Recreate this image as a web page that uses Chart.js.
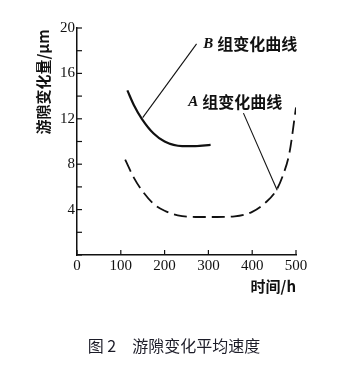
<!DOCTYPE html>
<html><head><meta charset="utf-8">
<script src="https://cdn.jsdelivr.net/npm/chart.js@4/dist/chart.umd.min.js"></script>
<style>html,body{margin:0;padding:0;background:#fff}#wrap{width:359px;height:372px;position:relative}</style>
</head><body><div id="wrap"><canvas id="c" width="359" height="372"></canvas></div>
<script>
// ---- data ----
const hoursB = [115, 130, 148, 175, 200, 240, 270, 305];
const clearanceB = [14.5, 13.2, 12.0, 10.7, 10.0, 9.6, 9.6, 9.7];
const hoursA = [110, 130, 150, 175, 200, 230, 270, 320, 360, 400, 430, 455, 470, 485, 500];
const clearanceA = [8.4, 6.8, 5.6, 4.5, 3.9, 3.5, 3.35, 3.35, 3.4, 3.8, 4.6, 5.7, 7.0, 9.0, 13.0];
const xTickValues = [0, 100, 200, 300, 400, 500];
const yTickLabels = [4, 8, 12, 16, 20];
const labelB = "组变化曲线", letterB = "B";
const labelA = "组变化曲线", letterA = "A";
const leaderB = [[273, 18.6], [150, 12.1]];
const leaderA = [[380, 12.5], [457, 5.7]];
const textBAt = [320, 18.6];
const textAAt = [286, 13.5];
const yTitle = "游隙变化量/μm";
const xTitle = "时间/h";
const caption = "图 2　游隙变化平均速度";

const toPts = (xs, ys) => xs.map((x, i) => ({x, y: ys[i]}));

const deco = {
  id: 'deco',
  afterDraw(chart) {
    const ctx = chart.ctx, xs = chart.scales.x, ys = chart.scales.y;
    const ca = chart.chartArea;
    ctx.save();
    ctx.strokeStyle = '#111'; ctx.lineWidth = 1.2;
    // inward ticks
    for (let v = 0; v <= 20; v += 2) {
      const p = ys.getPixelForValue(v);
      ctx.beginPath(); ctx.moveTo(ca.left, p); ctx.lineTo(ca.left + 5, p); ctx.stroke();
    }
    xTickValues.forEach(v => {
      const p = xs.getPixelForValue(v);
      ctx.beginPath(); ctx.moveTo(p, ca.bottom); ctx.lineTo(p, ca.bottom - 5); ctx.stroke();
    });
    // leader lines
    ctx.lineWidth = 1.1;
    [leaderB, leaderA].forEach(l => {
      ctx.beginPath();
      ctx.moveTo(xs.getPixelForValue(l[0][0]), ys.getPixelForValue(l[0][1]));
      ctx.lineTo(xs.getPixelForValue(l[1][0]), ys.getPixelForValue(l[1][1]));
      ctx.stroke();
    });
    // annotation texts
    ctx.fillStyle = '#111';
    ctx.textBaseline = 'middle'; ctx.textAlign = 'left';
    const drawAnn = (letter, label, at) => {
      const px = xs.getPixelForValue(at[0]), py = ys.getPixelForValue(at[1]);
      ctx.font = 'italic bold 15px "Liberation Serif"';
      ctx.fillText(letter, px - 14, py);
      ctx.font = 'bold 16px "Noto Sans CJK SC"';
      ctx.fillText(label, px, py);
    };
    drawAnn(letterB, labelB, textBAt);
    drawAnn(letterA, labelA, textAAt);
    // y title
    ctx.save();
    ctx.translate(43, 82);
    ctx.rotate(-Math.PI / 2);
    ctx.textAlign = 'center';
    ctx.font = 'bold 15px "Noto Sans CJK SC"';
    ctx.fillText(yTitle, 0, 0);
    ctx.restore();
    // x title
    ctx.textAlign = 'right';
    ctx.font = 'bold 15px "Noto Sans CJK SC"';
    ctx.fillText(xTitle, 296, 286);
    // caption
    ctx.textAlign = 'center';
    ctx.fillStyle = '#1c1c28';
    ctx.font = '16px "Noto Sans CJK SC"';
    ctx.fillText(caption, 174, 346);
    ctx.restore();
  }
};

new Chart(document.getElementById('c'), {
  type: 'scatter',
  data: {
    datasets: [
      {data: toPts(hoursB, clearanceB), showLine: true, borderColor: '#111', borderWidth: 2.2,
       pointRadius: 0, cubicInterpolationMode: 'monotone', fill: false},
      {data: toPts(hoursA, clearanceA), showLine: true, borderColor: '#111', borderWidth: 1.8,
       borderDash: [13, 6], pointRadius: 0, cubicInterpolationMode: 'monotone', fill: false}
    ]
  },
  options: {
    responsive: false, animation: false,
    layout: {padding: {left: 0, top: 28, right: 63, bottom: 0}, autoPadding: false},
    plugins: {legend: {display: false}, tooltip: {enabled: false}},
    scales: {
      x: {
        type: 'linear', min: 0, max: 500,
        afterBuildTicks: s => { s.ticks = xTickValues.map(v => ({value: v})); },
        afterFit: s => { s.height = 117; },
        grid: {display: true, drawOnChartArea: false, drawTicks: false},
        border: {display: true, color: '#111', width: 1.5},
        ticks: {padding: 2, color: '#111', font: {family: '"Liberation Serif"', size: 15}, maxRotation: 0}
      },
      y: {
        min: 0, max: 20,
        afterBuildTicks: s => { s.ticks = yTickLabels.map(v => ({value: v})); },
        afterFit: s => { s.width = 77; },
        grid: {display: true, drawOnChartArea: false, drawTicks: false},
        border: {display: true, color: '#111', width: 1.5},
        ticks: {padding: 2, color: '#111', font: {family: '"Liberation Serif"', size: 15}}
      }
    }
  },
  plugins: [deco]
});
</script></body></html>
